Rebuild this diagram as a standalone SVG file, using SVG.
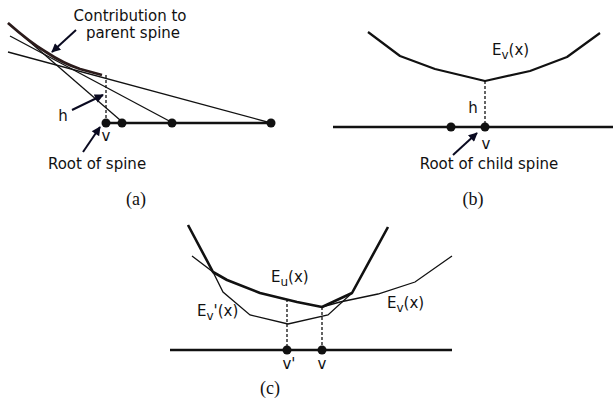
<svg xmlns="http://www.w3.org/2000/svg" width="613" height="416" viewBox="0 0 613 416">
<defs>
<marker id="ah" viewBox="0 0 10 10" refX="9" refY="5" markerWidth="10" markerHeight="9" orient="auto" markerUnits="userSpaceOnUse">
<path d="M0,0 L10,5 L0,10 z" fill="#0a0a20"/>
</marker>
<style>
.lbl{font-family:"DejaVu Sans",sans-serif;font-size:15px;fill:#111}
.cap{font-family:"Liberation Serif",serif;font-size:18px;fill:#111}
.thin{fill:none;stroke:#111;stroke-width:1.3}
.thick{fill:none;stroke:#111;stroke-width:2.6;stroke-linejoin:round}
.axis{fill:none;stroke:#111;stroke-width:2.4}
.dash{fill:none;stroke:#111;stroke-width:1.3;stroke-dasharray:3,2}
.arr{fill:none;stroke:#0a0a20;stroke-width:2;marker-end:url(#ah)}
.dot{fill:#111}
.sub{font-size:12px}
</style>
</defs>
<rect width="613" height="416" fill="#fff"/>

<g id="panel-a">
<polyline class="thin" points="8,23 120,120"/>
<polyline class="thin" points="10,36 173,123"/>
<polyline class="thin" points="8,52 271,123"/>
<path d="M8,23 C25,38 36,46 46,52 C58,60 68,65 80,69 L102,75" fill="none" stroke="#2b1b1b" stroke-width="2.8"/>
<line class="dash" x1="106" y1="75" x2="106" y2="123"/>
<line class="axis" x1="106" y1="123" x2="271" y2="123"/>
<circle class="dot" cx="106" cy="123" r="4.5"/>
<circle class="dot" cx="122" cy="123" r="4.5"/>
<circle class="dot" cx="172" cy="123" r="4.5"/>
<circle class="dot" cx="271" cy="123" r="4.5"/>
<text class="lbl" x="130" y="21" text-anchor="middle">Contribution to</text>
<text class="lbl" x="133" y="38" text-anchor="middle">parent spine</text>
<text class="lbl" x="63" y="121" text-anchor="middle">h</text>
<text class="lbl" x="106" y="141" text-anchor="middle">v</text>
<text class="lbl" x="97" y="169" text-anchor="middle">Root of spine</text>
<text class="cap" x="136" y="205" text-anchor="middle">(a)</text>
</g>

<g id="panel-b">
<polyline class="thick" points="368,32 400,56 435,69 485,81 530,71 567,57 600,33" style="stroke-width:2.2"/>
<line class="dash" x1="485" y1="81" x2="485" y2="127"/>
<line class="axis" x1="333" y1="127" x2="613" y2="127"/>
<circle class="dot" cx="451" cy="127" r="4.5"/>
<circle class="dot" cx="485" cy="127" r="4.5"/>
<text class="lbl" x="492" y="55">E<tspan class="sub" dy="4">v</tspan><tspan dy="-4">(x)</tspan></text>
<text class="lbl" x="473" y="113" text-anchor="middle">h</text>
<text class="lbl" x="486" y="149" text-anchor="middle">v</text>
<text class="lbl" x="489" y="169" text-anchor="middle">Root of child spine</text>
<text class="cap" x="473" y="205" text-anchor="middle">(b)</text>
</g>

<g id="panel-c">
<polyline class="thin" points="192,256 213,272 223,292 250,315 288,324 328,315 352,293"/>
<polyline class="thin" points="322,307 340,302 378,294 415,282 452,256"/>
<polyline class="thick" points="188,225 213,272 227,280 260,293 297,302 322,307 352,293 388,227"/>
<line class="dash" x1="287" y1="299" x2="287" y2="350"/>
<line class="dash" x1="322" y1="307" x2="322" y2="350"/>
<line class="axis" x1="170" y1="350" x2="452" y2="350"/>
<circle class="dot" cx="287" cy="350" r="4.5"/>
<circle class="dot" cx="322" cy="350" r="4.5"/>
<text class="lbl" x="271" y="282">E<tspan class="sub" dy="4">u</tspan><tspan dy="-4">(x)</tspan></text>
<text class="lbl" x="197" y="316">E<tspan class="sub" dy="4">v</tspan><tspan dy="-4">'(x)</tspan></text>
<text class="lbl" x="387" y="308">E<tspan class="sub" dy="4">v</tspan><tspan dy="-4">(x)</tspan></text>
<text class="lbl" x="289" y="369" text-anchor="middle">v'</text>
<text class="lbl" x="322" y="369" text-anchor="middle">v</text>
<text class="cap" x="270" y="394" text-anchor="middle">(c)</text>
</g>

<g id="connectors">
<line class="arr" x1="76" y1="30" x2="52" y2="52"/>
<line class="arr" x1="72" y1="110" x2="103" y2="95"/>
<line class="arr" x1="83" y1="152" x2="100" y2="127"/>
<line class="arr" x1="453" y1="155" x2="477" y2="133"/>
</g>
</svg>
